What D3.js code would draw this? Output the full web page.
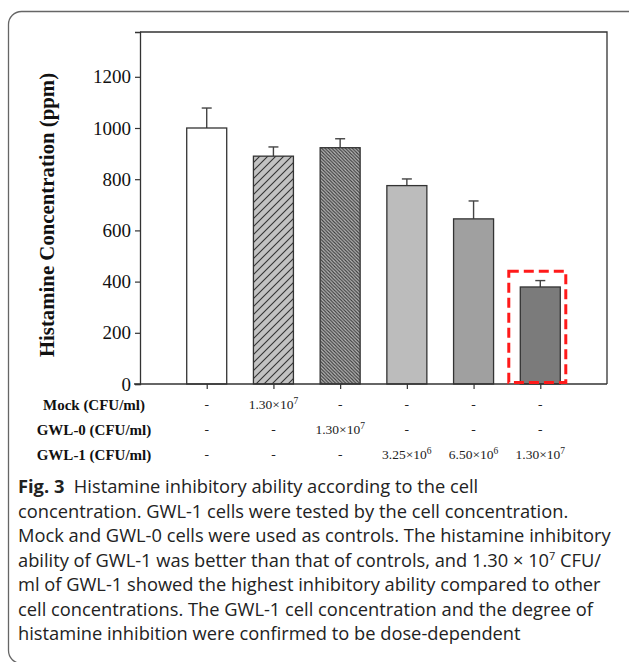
<!DOCTYPE html>
<html>
<head>
<meta charset="utf-8">
<script src="https://cdn.jsdelivr.net/npm/d3@7"></script>
<style>
  html, body { margin: 0; padding: 0; background: #fff; }
  svg { display: block; }
</style>
</head>
<body>
<svg id="chart" width="629" height="662"></svg>
<script>
// Histamine concentration per treatment group
const groups = ["Control", "Mock", "GWL-0", "GWL-1 low", "GWL-1 mid", "GWL-1 high"];
const histamine = [1000, 890, 923, 775, 645, 379];
const errorUpper = [78, 36, 35, 26, 70, 25];
const yTicks = [0, 200, 400, 600, 800, 1000, 1200];

// Concentration table under the axis (mantissa, exponent; null = "-")
const tableRows = ["Mock (CFU/ml)", "GWL-0 (CFU/ml)", "GWL-1 (CFU/ml)"];
const mockDose = [null, ["1.30", "7"], null, null, null, null];
const gwl0Dose = [null, null, ["1.30", "7"], null, null, null];
const gwl1Dose = [null, null, null, ["3.25", "6"], ["6.50", "6"], ["1.30", "7"]];

const captionLines = [
  [{b: "Fig. 3"}, {t: "  Histamine inhibitory ability according to the cell"}],
  [{t: "concentration. GWL-1 cells were tested by the cell concentration."}],
  [{t: "Mock and GWL-0 cells were used as controls. The histamine inhibitory"}],
  [{t: "ability of GWL-1 was better than that of controls, and 1.30 \u00d7 10"}, {s: "7"}, {t: " CFU/", after: true}],
  [{t: "ml of GWL-1 showed the highest inhibitory ability compared to other"}],
  [{t: "cell concentrations. The GWL-1 cell concentration and the degree of"}],
  [{t: "histamine inhibition were confirmed to be dose-dependent"}]
];

const svg = d3.select("#chart");
const serif = "'Liberation Serif', 'Times New Roman', serif";
const sans = "'Open Sans', 'Noto Sans', sans-serif";
const axisCol = "#333";

// outer panel frame
svg.append("rect")
  .attr("x", 8.5).attr("y", 11.5).attr("width", 640).attr("height", 652)
  .attr("rx", 13).attr("ry", 13)
  .attr("fill", "none").attr("stroke", "#666").attr("stroke-width", 1.3);

const plot = {left: 140, right: 607, top: 32, bottom: 384};

const x = d3.scalePoint().domain(groups).range([plot.left, plot.right]).padding(1);
const y = d3.scaleLinear().domain([0, 1375]).range([plot.bottom, plot.top]);
const barW = 40;

// hatch patterns
const defs = svg.append("defs");
const p1 = defs.append("pattern").attr("id", "hatchWide")
  .attr("patternUnits", "userSpaceOnUse").attr("width", 8).attr("height", 8);
p1.append("rect").attr("width", 8).attr("height", 8).attr("fill", "#c2c2c2");
p1.append("path").attr("d", "M-2,2 L2,-2 M0,8 L8,0 M6,10 L10,6")
  .attr("stroke", "#333").attr("stroke-width", 1.1);

const p2 = defs.append("pattern").attr("id", "hatchDense")
  .attr("patternUnits", "userSpaceOnUse").attr("width", 3.4).attr("height", 3.4);
p2.append("rect").attr("width", 3.4).attr("height", 3.4).attr("fill", "#b8b8b8");
p2.append("path").attr("d", "M-1,-1 L4.4,4.4 M-1,2.4 L1,4.4 M2.4,-1 L4.4,1")
  .attr("stroke", "#3a3a3a").attr("stroke-width", 1.1);

const fills = ["#ffffff", "url(#hatchWide)", "url(#hatchDense)", "#bcbcbc", "#a0a0a0", "#7b7b7b"];

// plot frame (top and right)
svg.append("path")
  .attr("d", `M${plot.left},${plot.top} H${plot.right} V${plot.bottom}`)
  .attr("fill", "none").attr("stroke", axisCol).attr("stroke-width", 1.3);

// error bars (upper only)
const eb = svg.append("g").attr("stroke", "#444").attr("stroke-width", 1.4);
groups.forEach((g, i) => {
  const cx = x(g);
  eb.append("line").attr("x1", cx).attr("x2", cx)
    .attr("y1", y(histamine[i])).attr("y2", y(histamine[i] + errorUpper[i]));
  eb.append("line").attr("x1", cx - 5).attr("x2", cx + 5)
    .attr("y1", y(histamine[i] + errorUpper[i])).attr("y2", y(histamine[i] + errorUpper[i]));
});

// bars
svg.append("g").selectAll("rect").data(groups).join("rect")
  .attr("x", d => x(d) - barW / 2)
  .attr("y", (d, i) => y(histamine[i]))
  .attr("width", barW)
  .attr("height", (d, i) => y(0) - y(histamine[i]))
  .attr("fill", (d, i) => fills[i])
  .attr("stroke", "#333").attr("stroke-width", 1.3);

// y axis
const yAxis = svg.append("g").attr("transform", `translate(${plot.left},0)`)
  .call(d3.axisLeft(y).tickValues(yTicks).tickSize(5).tickPadding(4).tickFormat(d3.format("d")));
yAxis.select(".domain").attr("stroke", axisCol).attr("stroke-width", 1.3);
yAxis.selectAll(".tick line").attr("stroke", axisCol).attr("stroke-width", 1.2);
yAxis.selectAll("text").attr("font-family", serif).attr("font-size", 19).attr("fill", "#111");

// x axis
const xAxis = svg.append("g").attr("transform", `translate(0,${plot.bottom})`)
  .call(d3.axisBottom(x).tickSize(5).tickFormat(""));
xAxis.select(".domain").attr("d", `M${plot.left - 6},0 H${plot.right}`)
  .attr("stroke", axisCol).attr("stroke-width", 1.3);
xAxis.selectAll(".tick line").attr("stroke", axisCol).attr("stroke-width", 1.2);

// highlighted group
const hi = groups[5];
svg.append("rect")
  .attr("x", x(hi) - 31.5).attr("y", y(440))
  .attr("width", 57).attr("height", y(0) - y(440) - 1.5)
  .attr("fill", "none").attr("stroke", "#ff1a1a").attr("stroke-width", 3)
  .attr("stroke-dasharray", "10,5");

// y axis title
svg.append("text")
  .attr("transform", `translate(54,215) rotate(-90)`)
  .attr("text-anchor", "middle")
  .attr("font-family", serif).attr("font-weight", "bold").attr("font-size", 20.8)
  .attr("fill", "#111")
  .text("Histamine Concentration (ppm)");

// concentration table
const rowY = [410, 435, 460];
[mockDose, gwl0Dose, gwl1Dose].forEach((row, r) => {
  svg.append("text")
    .attr("x", 94).attr("y", rowY[r]).attr("text-anchor", "middle")
    .attr("font-family", serif).attr("font-weight", "bold").attr("font-size", 15)
    .attr("fill", "#111").text(tableRows[r]);
  row.forEach((v, i) => {
    const t = svg.append("text")
      .attr("x", x(groups[i])).attr("y", rowY[r] - 1).attr("text-anchor", "middle")
      .attr("font-family", serif).attr("font-size", 13.5).attr("fill", "#222");
    if (v === null) {
      t.text("-");
    } else {
      t.append("tspan").text(v[0] + "\u00d710");
      t.append("tspan").attr("dy", -5).attr("font-size", 9.5).text(v[1]);
    }
  });
});

// caption
const cap = svg.append("g").attr("font-family", sans).attr("fill", "#222");
captionLines.forEach((line, i) => {
  const t = cap.append("text").attr("x", 18).attr("y", 493 + i * 24.5)
    .attr("font-size", 18.3).attr("xml:space", "preserve");
  line.forEach(seg => {
    if (seg.b) t.append("tspan").attr("font-weight", "bold").text(seg.b);
    if (seg.t) {
      const ts = t.append("tspan").text(seg.t);
      if (seg.after) ts.attr("dy", 7);
    }
    if (seg.s) t.append("tspan").attr("dy", -7).attr("font-size", 11).text(seg.s);
  });
});
</script>
</body>
</html>
